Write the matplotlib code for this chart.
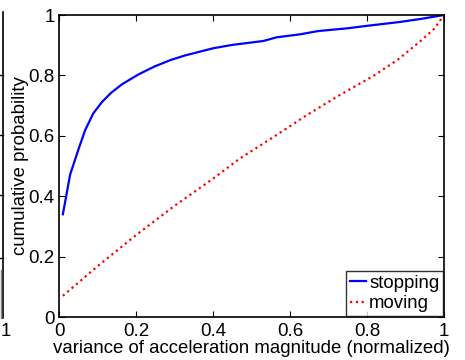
import matplotlib
matplotlib.use("Agg")
import matplotlib.pyplot as plt
from matplotlib.lines import Line2D

plt.rcParams['font.family'] = ['Liberation Sans', 'DejaVu Sans']

# stopping curve (blue)
stop_x = [0.010, 0.029, 0.050, 0.068, 0.089, 0.111, 0.135, 0.163, 0.206, 0.249,
          0.290, 0.327, 0.401, 0.450, 0.531, 0.565, 0.626, 0.674, 0.750, 0.799,
          0.886, 0.940, 1.000]
stop_y = [0.340, 0.472, 0.553, 0.619, 0.674, 0.711, 0.742, 0.770, 0.803, 0.830,
          0.851, 0.866, 0.890, 0.901, 0.914, 0.926, 0.936, 0.947, 0.956, 0.964,
          0.977, 0.987, 1.000]

# moving curve (red dotted)
move_x = [0.010, 0.100, 0.200, 0.300, 0.400, 0.470, 0.550, 0.643, 0.720, 0.816,
          0.880, 0.942, 0.975, 1.000]
move_y = [0.070, 0.168, 0.271, 0.368, 0.458, 0.525, 0.590, 0.668, 0.728, 0.798,
          0.852, 0.917, 0.955, 1.000]

ticks = [0, 0.2, 0.4, 0.6, 0.8, 1]
tick_labels = ['0', '0.2', '0.4', '0.6', '0.8', '1']

fig = plt.figure(figsize=(4.65, 3.6), dpi=100)
ax = fig.add_axes([59/465, 1-317/360, 385/465, 302/360])

ax.plot(stop_x, stop_y, color='#0000ff', lw=1.6, label='stopping')
ax.plot(move_x, move_y, color='#ff0000', lw=1.6, linestyle=(0, (1, 1.6)), label='moving')

ax.set_xlim(0, 1)
ax.set_ylim(0, 1)
ax.set_xticks(ticks)
ax.set_xticklabels(tick_labels)
ax.set_yticks(ticks)
ax.set_yticklabels(tick_labels)
ax.tick_params(direction='in', length=4, width=0.8, top=True, right=True,
               labelsize=13.5, colors='black')
ax.tick_params(axis='x', pad=4)
ax.tick_params(axis='y', pad=3)
for s in ax.spines.values():
    s.set_linewidth(1.2)

ax.set_xlabel('variance of acceleration magnitude (normalized)', fontsize=13.4, labelpad=0)
ax.set_ylabel('cumulative probability', fontsize=13.4, labelpad=0)

leg = ax.legend(loc='lower right', fontsize=13.4, frameon=True, fancybox=False,
                borderaxespad=0.05, handlelength=0.9, handletextpad=0.15,
                borderpad=0.2, labelspacing=0.2)
leg.get_frame().set_edgecolor('black')
leg.get_frame().set_linewidth(1.0)

# edge of the neighbouring panel that was cut off on the left
fig.add_artist(Line2D([2.5/465, 2.5/465], [1-12/360, 1-318/360], color='black', lw=1.2))
for py in [75, 135, 195, 258]:
    fig.add_artist(Line2D([0, 2.5/465], [1-py/360, 1-py/360], color='black', lw=1))
fig.add_artist(Line2D([0.5/465, 0.5/465], [1-270/360, 1-318/360], color='gray', lw=1))
fig.text(0.5/465, 1-331/360, '1', fontsize=13.4, ha='left', va='center')

fig.savefig('out.png', dpi=100)
